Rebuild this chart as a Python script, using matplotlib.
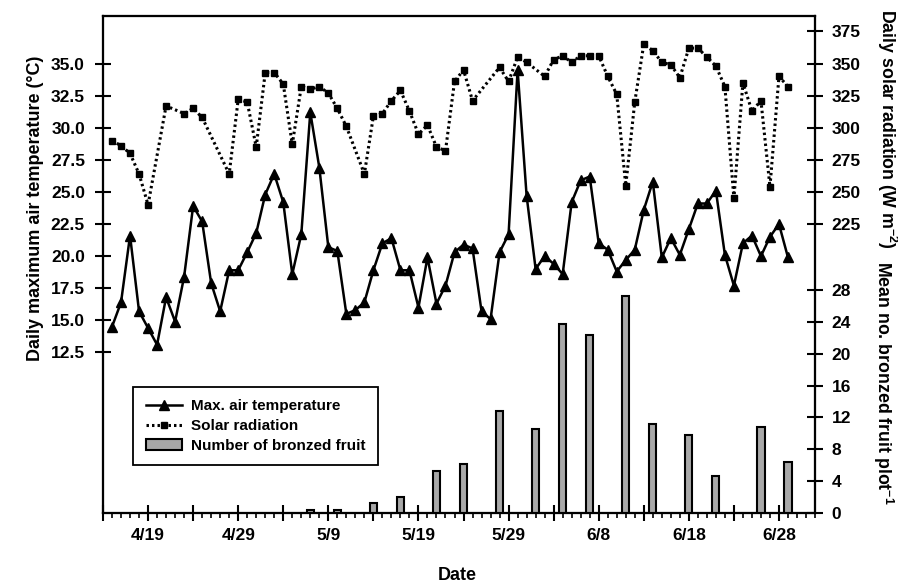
import matplotlib
matplotlib.use('Agg')
import matplotlib.pyplot as plt
import matplotlib.dates as mdates
import numpy as np
import pandas as pd

plt.rcParams['font.family'] = ['Liberation Sans', 'DejaVu Sans']
plt.rcParams['font.weight'] = 'bold'
plt.rcParams['mathtext.fontset'] = 'custom'
plt.rcParams['mathtext.rm'] = 'Liberation Sans:bold'
plt.rcParams['mathtext.bf'] = 'Liberation Sans:bold'

# daily records, 15 April - 29 June
days = pd.date_range('2003-04-15', periods=76, freq='D')

max_temp = [14.5, 16.4, 21.6, 15.7, 14.4, 13.1, 16.8, 14.9, 18.4, 23.9,
            22.7, 17.9, 15.7, 18.9, 18.9, 20.3, 21.8, 24.8, 26.4, 24.2,
            18.6, 21.7, 31.2, 26.9, 20.7, 20.4, 15.5, 15.8, 16.4, 18.9,
            21.0, 21.4, 18.9, 18.9, 16.0, 19.9, 16.3, 17.7, 20.3, 20.9,
            20.6, 15.7, 15.1, 20.3, 21.7, 34.5, 24.7, 19.0, 20.0, 19.4,
            18.6, 24.2, 25.9, 26.2, 21.0, 20.5, 18.8, 19.7, 20.5, 23.6,
            25.8, 19.9, 21.4, 20.1, 22.1, 24.1, 24.1, 25.1, 20.1, 17.7,
            21.0, 21.6, 20.0, 21.5, 22.5, 19.9]

# None = no reading that day
solar = [290, 286, 280, 264, 240, None, 317, None, 311, 315,
         308, None, None, 264, 322, 320, 285, 343, 343, 334,
         287, 332, 330, 332, 327, 315, 301, None, 264, 309,
         311, 321, 329, 313, 295, 302, 285, 282, 336, 345,
         321, None, None, 347, 336, 355, 351, None, 340, 353,
         356, 351, 356, 356, 356, 340, 326, 255, 320, 365,
         360, 351, 349, 339, 362, 362, 355, 348, 332, 245,
         335, 313, 321, 254, 340, 332]

fruit_dates = pd.to_datetime(['2003-05-07', '2003-05-10', '2003-05-14', '2003-05-17',
                              '2003-05-21', '2003-05-24', '2003-05-28', '2003-06-01',
                              '2003-06-04', '2003-06-07', '2003-06-11', '2003-06-14',
                              '2003-06-18', '2003-06-21', '2003-06-26', '2003-06-29'])
fruit = [0.4, 0.4, 1.3, 2.0, 5.3, 6.1, 12.8, 10.5, 23.7, 22.4, 27.3, 11.2,
         9.8, 4.6, 10.8, 6.4]

temp_ticks = [12.5, 15.0, 17.5, 20.0, 22.5, 25.0, 27.5, 30.0, 32.5, 35.0]
solar_ticks = [225, 250, 275, 300, 325, 350, 375]
fruit_ticks = [0, 4, 8, 12, 16, 20, 24, 28]

fig = plt.figure(figsize=(8.98, 5.84), dpi=100)
ax = fig.add_axes([0.1147, 0.1216, 0.7929, 0.851])
ax_s = ax.twinx()
ax_f = ax.twinx()

sol = pd.Series(solar, index=days, dtype=float).dropna()

l1, = ax.plot(days, max_temp, color='black', lw=1.8, marker='^', ms=7,
              label='Max. air temperature')
l2, = ax_s.plot(sol.index, sol.values, color='black', lw=2.2,
                linestyle=(0, (0.8, 1.0)), marker='s', ms=5,
                label='Solar radiation')
b = ax_f.bar(fruit_dates, fruit, width=0.8, color='#a8a8a8', edgecolor='black',
             lw=1.5, label='Number of bronzed fruit')

ax.set_xlim(pd.Timestamp('2003-04-14'), pd.Timestamp('2003-07-02'))
ax.set_ylim(0, 38.7)
ax_s.set_ylim(0, 387)
ax_f.set_ylim(0, 62.4)

ax.set_yticks(temp_ticks)
ax.set_yticklabels(['%.1f' % t for t in temp_ticks])
ax_s.set_yticks(solar_ticks)
ax_f.set_yticks(fruit_ticks)

major = pd.date_range('2003-04-14', '2003-07-02', freq='5D')
ax.set_xticks(major)
ax.set_xticklabels(['' if i % 2 == 0 else '%d/%d' % (d.month, d.day)
                    for i, d in enumerate(major)])
ax.xaxis.set_minor_locator(mdates.DayLocator())

for a in (ax, ax_s, ax_f):
    for sp in a.spines.values():
        sp.set_linewidth(1.5)
ax.tick_params(axis='x', which='major', direction='inout', length=11, width=1.5,
               labelsize=12.5, pad=5)
ax.tick_params(axis='x', which='minor', direction='out', length=3.5, width=1.2)
ax.tick_params(axis='y', direction='inout', length=12, width=1.5, labelsize=12.5, pad=7)
ax_s.tick_params(axis='y', direction='inout', length=12, width=1.5, labelsize=12.5, pad=6)
ax_f.tick_params(axis='y', direction='inout', length=12, width=1.5, labelsize=12.5, pad=6)

fig.text(0.039, 0.644, 'Daily maximum air temperature (°C)', rotation=90,
         ha='center', va='center', fontsize=13)
fig.text(0.988, 0.779, r'Daily solar radiation (W m$^{-2}$)', rotation=-90,
         ha='center', va='center', fontsize=12.8)
fig.text(0.983, 0.345, r'Mean no. bronzed fruit plot$^{-1}$', rotation=-90,
         ha='center', va='center', fontsize=12.8)
fig.text(0.509, 0.015, 'Date', ha='center', va='center', fontsize=13)

leg = ax_f.legend([l1, l2, b], ['Max. air temperature', 'Solar radiation',
                                'Number of bronzed fruit'],
                  loc='upper left', bbox_to_anchor=(0.0426, 0.253),
                  fancybox=False, edgecolor='black', framealpha=1,
                  fontsize=11, handlelength=2.4, handletextpad=0.6,
                  labelspacing=0.38, borderpad=0.8, borderaxespad=0)
leg.get_frame().set_linewidth(1.3)

plt.savefig('out.png', dpi=100)
plt.close(fig)
